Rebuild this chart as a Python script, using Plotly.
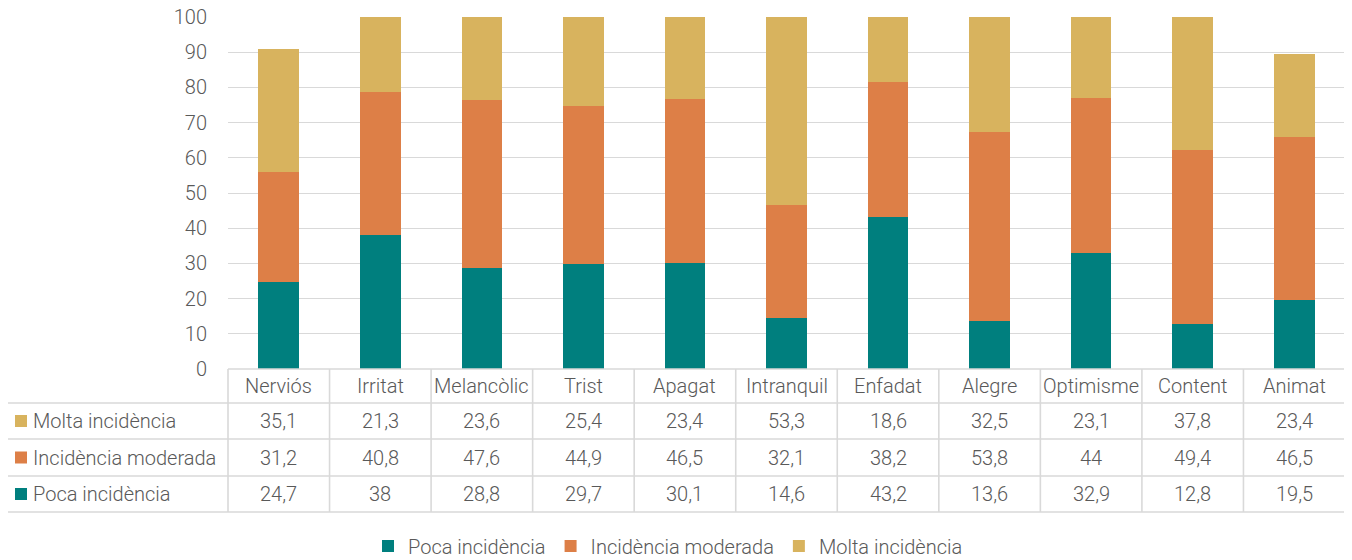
import plotly.graph_objects as go

categories = ["Nerviós", "Irritat", "Melancòlic", "Trist", "Apagat", "Intranquil",
              "Enfadat", "Alegre", "Optimisme", "Content", "Animat"]
poca = [24.7, 38, 28.8, 29.7, 30.1, 14.6, 43.2, 13.6, 32.9, 12.8, 19.5]
moderada = [31.2, 40.8, 47.6, 44.9, 46.5, 32.1, 38.2, 53.8, 44, 49.4, 46.5]
molta = [35.1, 21.3, 23.6, 25.4, 23.4, 53.3, 18.6, 32.5, 23.1, 37.8, 23.4]
series_names = ["Poca incidència", "Incidència moderada", "Molta incidència"]

C_POCA = "#007F7E"
C_MOD = "#DD7F47"
C_MOLTA = "#D8B35E"
TXT = "#595959"
GRID = "#D9D9D9"
FONT = "Roboto, Liberation Sans, sans-serif"
FS = 20
FW = 300

# page body has an 8px margin: figure is drawn at (8, 8) inside the 1352x560 window
OFF = 8
W, H = 1352 - OFF, 560 - OFF
ML, MR, MT, MB = 228 - OFF, 1352 - 1345, 17 - OFF, 560 - 369
PW = W - ML - MR
PH = H - MT - MB


def py(p):
    """window pixel y -> paper y"""
    return (H - MB - (p - OFF)) / PH


def px(p):
    """window pixel x -> paper x"""
    return (p - OFF - ML) / PW


def fnt():
    return dict(family=FONT, size=FS, color=TXT, weight=FW)


fig = go.Figure()
for name, vals, col in [(series_names[0], poca, C_POCA),
                        (series_names[1], moderada, C_MOD),
                        (series_names[2], molta, C_MOLTA)]:
    fig.add_trace(go.Bar(x=categories, y=vals, name=name,
                         marker=dict(color=col, line=dict(width=0))))

shapes = []
line = dict(color=GRID, width=1.6)
n = len(categories)
# horizontal table lines
shapes.append(dict(type="line", xref="paper", yref="paper", x0=0, x1=1,
                   y0=py(369), y1=py(369), line=line))
for yy in [403, 439, 476, 512]:
    shapes.append(dict(type="line", xref="paper", yref="paper", x0=px(7), x1=1,
                       y0=py(yy), y1=py(yy), line=line))
# vertical lines
shapes.append(dict(type="line", xref="paper", yref="paper", x0=px(7), x1=px(7),
                   y0=py(403), y1=py(512), line=line))
for k in range(n + 1):
    shapes.append(dict(type="line", xref="paper", yref="paper", x0=k / n, x1=k / n,
                       y0=py(369), y1=py(512), line=line))

annotations = []
for c in categories:
    annotations.append(dict(x=c, xref="x", y=py(386), yref="paper", text=c,
                            showarrow=False, xanchor="center", yanchor="middle",
                            font=fnt()))

rows = [(series_names[2], molta, C_MOLTA, 421),
        (series_names[1], moderada, C_MOD, 457.5),
        (series_names[0], poca, C_POCA, 494)]
for name, vals, col, yc in rows:
    shapes.append(dict(type="rect", xref="paper", yref="paper",
                       x0=px(15), x1=px(27), y0=py(yc - 6), y1=py(yc + 6),
                       fillcolor=col, line=dict(width=0)))
    annotations.append(dict(x=px(31), xref="paper", y=py(yc), yref="paper", text=name,
                            showarrow=False, xanchor="left", yanchor="middle",
                            font=fnt()))
    for c, v in zip(categories, vals):
        annotations.append(dict(x=c, xref="x", y=py(yc), yref="paper",
                                text=f"{v:g}".replace(".", ","),
                                showarrow=False, xanchor="center", yanchor="middle",
                                font=fnt()))

fig.update_layout(
    width=W, height=H,
    margin=dict(l=ML, r=MR, t=MT, b=MB, autoexpand=False),
    barmode="stack",
    bargap=0.6,
    plot_bgcolor="white", paper_bgcolor="white",
    font=fnt(),
    shapes=shapes,
    annotations=annotations,
    legend=dict(orientation="h", x=px(668), xanchor="center", y=py(546), yanchor="middle",
                traceorder="normal", font=fnt(), itemwidth=30),
    xaxis=dict(showticklabels=False, showgrid=False, zeroline=False, showline=False,
               range=[-0.5, n - 0.5], fixedrange=True),
    yaxis=dict(range=[0, 100], dtick=10, showgrid=True, gridcolor=GRID, gridwidth=1.3,
               zeroline=False, showline=False, ticks="", ticklabelstandoff=20,
               ticklabeloverflow="allow",
               tickfont=fnt(), fixedrange=True),
)

fig.write_html("out.html")
